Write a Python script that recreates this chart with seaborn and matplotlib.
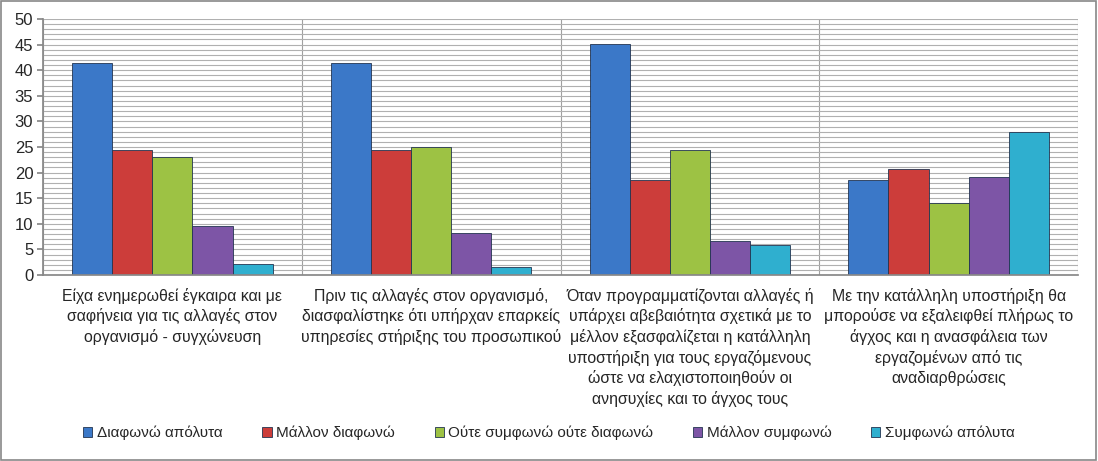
import matplotlib
matplotlib.use("Agg")
import matplotlib.pyplot as plt
import seaborn as sns
import pandas as pd
from matplotlib.patches import Rectangle
from matplotlib.ticker import MultipleLocator, FixedLocator

categories = [
    "Είχα ενημερωθεί έγκαιρα και με\nσαφήνεια για τις αλλαγές στον\nοργανισμό - συγχώνευση",
    "Πριν τις αλλαγές στον οργανισμό,\nδιασφαλίστηκε ότι υπήρχαν επαρκείς\nυπηρεσίες στήριξης του προσωπικού",
    "Όταν προγραμματίζονται αλλαγές ή\nυπάρχει αβεβαιότητα σχετικά με το\nμέλλον εξασφαλίζεται η κατάλληλη\nυποστήριξη για τους εργαζόμενους\nώστε να ελαχιστοποιηθούν οι\nανησυχίες και το άγχος τους",
    "Με την κατάλληλη υποστήριξη θα\nμπορούσε να εξαλειφθεί πλήρως το\nάγχος και η ανασφάλεια των\nεργαζομένων από τις\nαναδιαρθρώσεις",
]
series = ["Διαφωνώ απόλυτα", "Μάλλον διαφωνώ", "Ούτε συμφωνώ ούτε διαφωνώ",
          "Μάλλον συμφωνώ", "Συμφωνώ απόλυτα"]
diafono_apolyta = [41.4, 41.4, 45.1, 18.6]
mallon_diafono = [24.4, 24.4, 18.6, 20.7]
oute_oute = [23.0, 25.0, 24.4, 14.0]
mallon_symfono = [9.6, 8.2, 6.6, 19.1]
symfono_apolyta = [2.1, 1.6, 5.9, 27.9]
yticks = [0, 5, 10, 15, 20, 25, 30, 35, 40, 45, 50]

colors = ["#3B78C8", "#CC3D3A", "#9DC244", "#7D55A6", "#2FAFCF"]

values = [diafono_apolyta, mallon_diafono, oute_oute, mallon_symfono, symfono_apolyta]
rows = []
for s, vals in zip(series, values):
    for c, v in zip(categories, vals):
        rows.append({"cat": c, "series": s, "value": v})
df = pd.DataFrame(rows)

sns.set_theme(style="white")
plt.rcParams["font.family"] = ["Liberation Sans", "DejaVu Sans"]

fig = plt.figure(figsize=(10.98, 4.61), dpi=100)
ax = fig.add_axes([43 / 1098, 1 - 275 / 461, (1078 - 43) / 1098, (275 - 19) / 461])

sns.barplot(data=df, x="cat", y="value", hue="series", order=categories,
            hue_order=series, palette=colors, width=0.775, ax=ax,
            edgecolor="#233450", linewidth=0.6, saturation=1, legend=True)

ax.set_ylim(0, 50)
ax.set_xlim(-0.5, 3.5)
ax.yaxis.set_major_locator(FixedLocator(yticks))
ax.yaxis.set_minor_locator(MultipleLocator(1))
ax.grid(which="minor", axis="y", color="#b0b0b0", linewidth=0.8)
ax.grid(which="major", axis="y", color="#b0b0b0", linewidth=0.8)
ax.xaxis.set_minor_locator(FixedLocator([-0.5, 0.5, 1.5, 2.5, 3.5]))
ax.grid(which="minor", axis="x", color="#a0a0a0", linewidth=0.8)
ax.set_axisbelow(True)
ax.tick_params(axis="x", which="major", length=0, pad=9, labelsize=11.4)
ax.tick_params(axis="x", which="minor", length=5, color="#888888", direction="out")
ax.tick_params(axis="y", which="major", length=4, color="#888888", direction="out",
               labelsize=12, pad=3, left=True)
ax.tick_params(axis="y", which="minor", length=0)
for lbl in ax.get_xticklabels():
    lbl.set_horizontalalignment("center")
    lbl.set_multialignment("center")
    lbl.set_linespacing(1.36)
ax.set_xlabel("")
ax.set_ylabel("")
for side in ["top", "right"]:
    ax.spines[side].set_visible(False)
ax.spines["left"].set_color("#888888")
ax.spines["bottom"].set_color("#888888")

handles, labels = ax.get_legend_handles_labels()
ax.legend_.remove()
fig.legend(handles, labels, loc="center", bbox_to_anchor=(0.5, 1 - 433 / 461),
           ncol=5, frameon=False, fontsize=11, handlelength=0.6, handleheight=0.6,
           columnspacing=2.6, handletextpad=0.3)

fig.patches.append(Rectangle((0.001, 0.002), 0.997, 0.995, transform=fig.transFigure,
                             fill=False, edgecolor="#888888", linewidth=1.2))

fig.savefig("out.png", dpi=100, facecolor="white")
